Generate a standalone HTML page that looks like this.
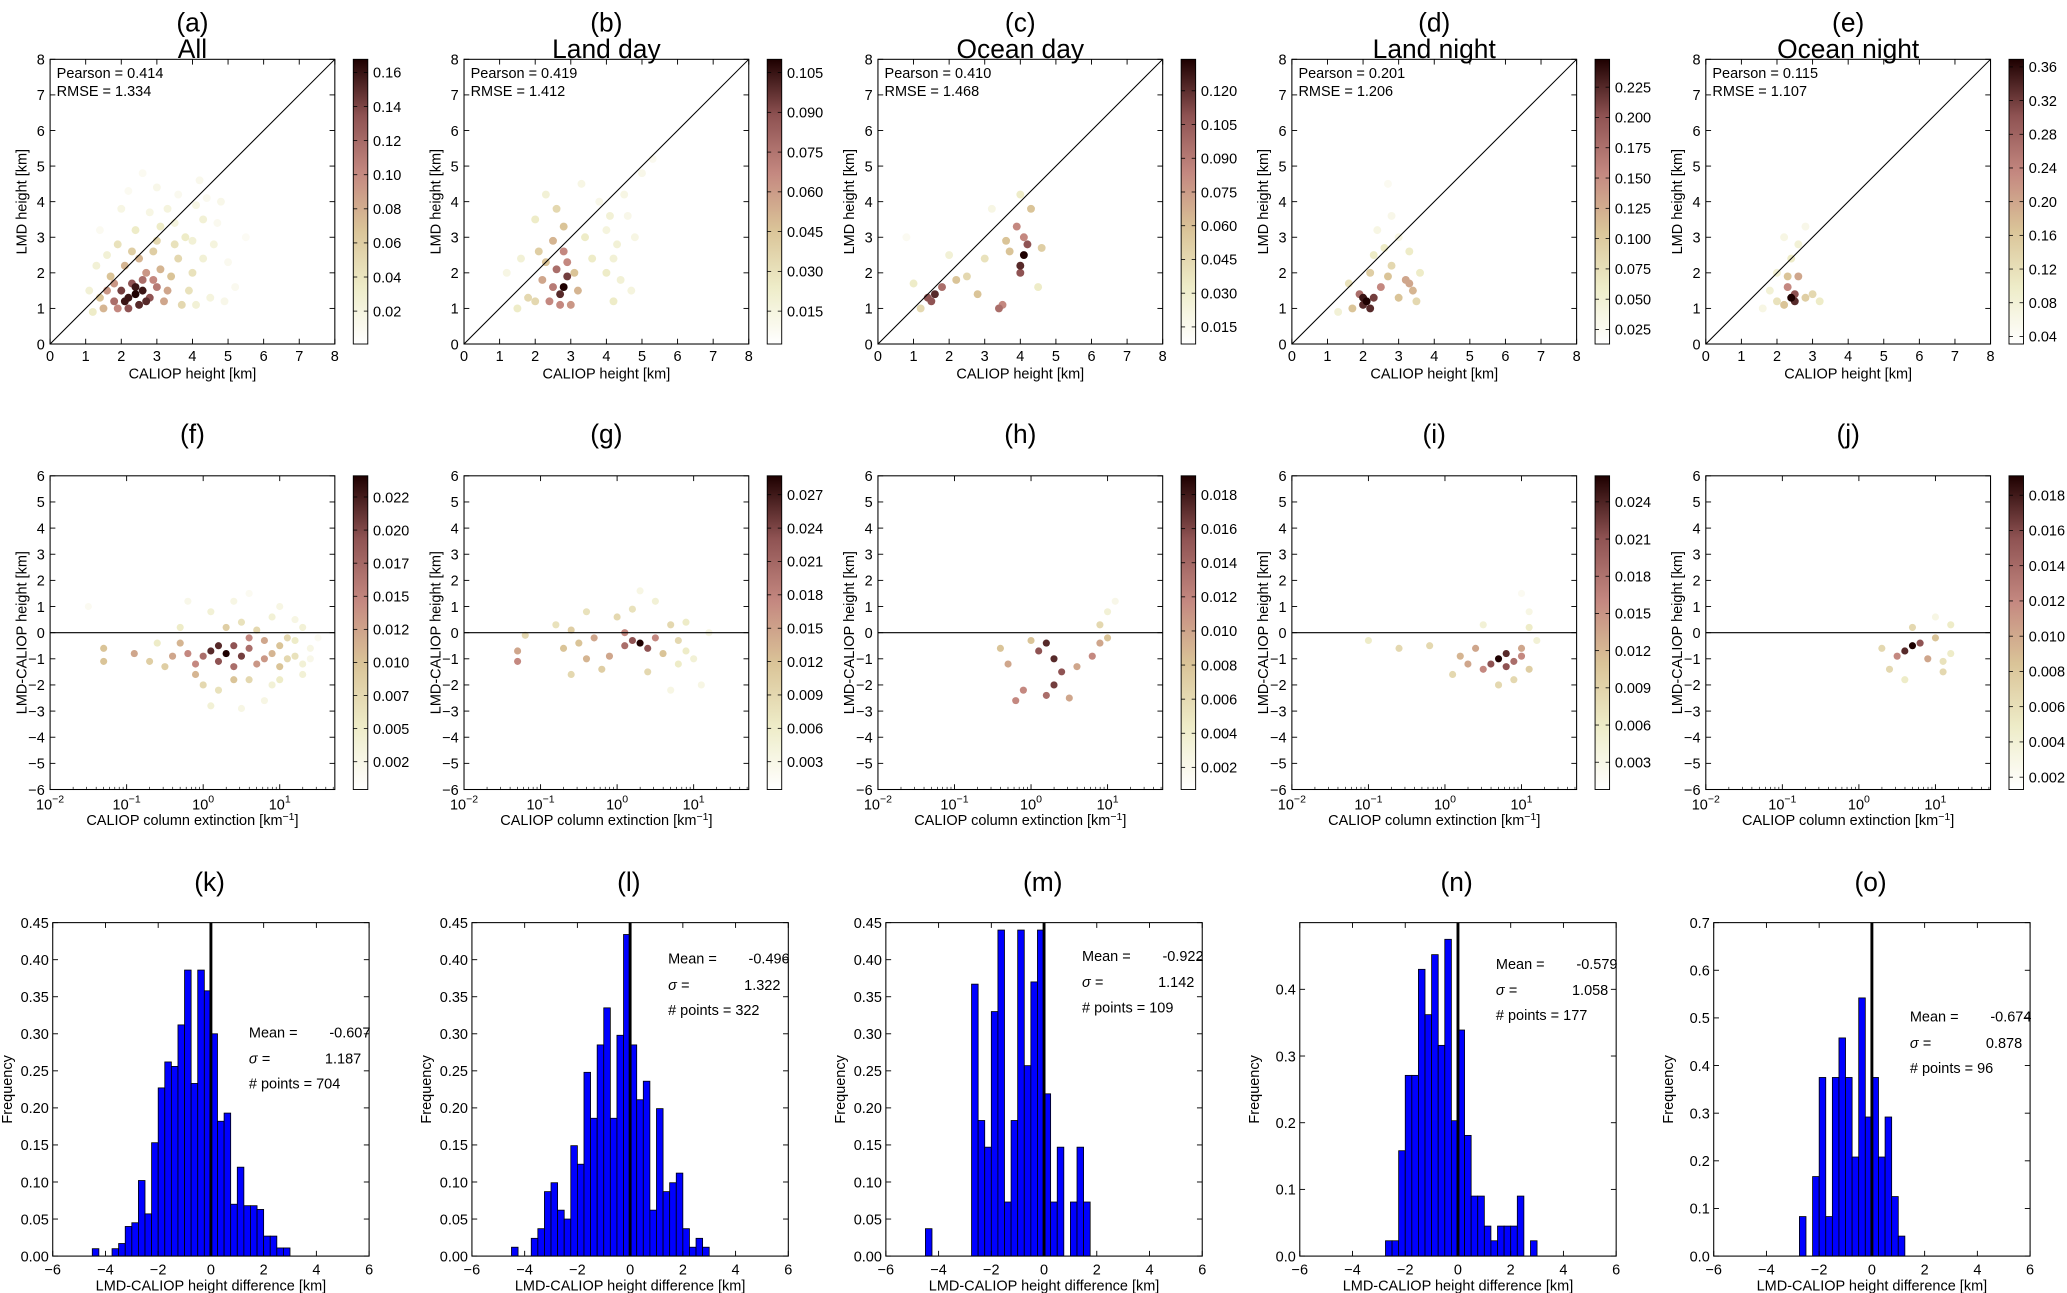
<!DOCTYPE html>
<html><head><meta charset="utf-8"><style>
html,body{margin:0;padding:0;background:#fff;}
svg{display:block;font-family:"Liberation Sans",sans-serif;}
</style></head><body>
<svg id="fig" width="2067" height="1293" viewBox="0 0 1568 981" preserveAspectRatio="none" xmlns="http://www.w3.org/2000/svg"></svg>
<script>
// ---------- DATA ----------
const topLetters = ["(a)","(b)","(c)","(d)","(e)"];
const topTitles = ["All","Land day","Ocean day","Land night","Ocean night"];
const midLetters = ["(f)","(g)","(h)","(i)","(j)"];
const botLetters = ["(k)","(l)","(m)","(n)","(o)"];
const pearson = ["0.414","0.419","0.410","0.201","0.115"];
const rmse = ["1.334","1.412","1.468","1.206","1.107"];
// scatter row 1: [caliop, lmd, normalized density]
const scatA = [[2.4,1.4,1],[2.2,1.3,.95],[2.6,1.5,.95],[2.0,1.5,.85],[2.8,1.3,.8],[2.3,1.7,.8],[1.8,1.2,.7],[3.0,1.6,.65],[2.5,1.1,.9],[1.6,1.5,.55],[3.2,1.2,.5],[2.7,2.0,.55],[2.1,2.2,.45],[3.4,1.9,.4],[1.5,1.0,.45],[2.9,2.6,.35],[3.6,2.4,.3],[4.0,2.0,.25],[3.8,3.0,.2],[4.3,3.5,.15],[2.4,3.2,.2],[3.3,3.8,.12],[4.6,2.8,.12],[1.3,2.2,.15],[2.0,3.8,.1],[4.8,4.0,.08],[5.2,1.6,.06],[3.0,4.4,.08],[4.2,4.6,.07],[1.2,0.9,.2],[5.5,3.0,.04],[2.6,4.8,.05],[3.7,1.1,.3],[4.5,1.3,.12],[1.9,2.8,.25],[2.2,1.0,.8],[2.9,1.8,.6],[1.7,1.9,.4],[3.5,2.8,.25],[4.1,3.9,.1],[3.1,3.3,.2],[2.5,2.4,.45],[2.1,1.2,.95],[2.7,1.2,.9],[2.4,1.6,.95],[1.9,1.0,.6],[2.6,1.8,.7],[3.3,1.5,.5],[1.4,1.3,.4],[1.8,1.7,.55],[3.1,2.1,.45],[2.3,2.6,.35],[3.9,1.5,.25],[4.3,2.4,.15],[4.0,2.9,.15],[3.5,3.4,.12],[2.8,3.7,.1],[1.6,2.5,.15],[1.1,1.5,.15],[4.7,3.4,.06],[4.4,4.1,.06],[3.6,4.2,.06],[2.2,4.3,.05],[5.0,2.3,.06],[1.4,3.2,.05],[3.0,2.9,.3],[4.9,1.2,.08],[4.1,1.1,.15]];
const scatB = [[2.8,1.6,1],[2.7,1.4,.9],[2.9,1.9,.85],[2.6,2.1,.7],[2.8,2.6,.6],[2.4,1.2,.6],[3.0,1.1,.55],[2.2,1.8,.5],[2.5,2.9,.45],[2.8,3.3,.4],[2.6,3.8,.3],[2.1,2.6,.35],[1.8,1.3,.3],[3.2,1.5,.45],[4.2,1.2,.2],[4.0,2.0,.2],[4.3,2.8,.15],[4.1,3.6,.15],[4.5,4.2,.1],[4.8,3.0,.1],[5.0,4.8,.08],[4.4,1.8,.15],[1.5,1.0,.2],[1.2,2.0,.1],[3.6,2.4,.2],[3.3,4.5,.1],[2.0,3.5,.2],[5.3,5.2,.06],[4.7,1.5,.12],[2.3,4.2,.15],[2.7,1.1,.6],[2.9,2.3,.6],[2.5,1.6,.65],[3.1,2.0,.4],[2.3,2.3,.4],[2.0,1.2,.3],[4.2,2.4,.15],[4.0,3.2,.12],[4.6,3.6,.08],[3.8,4.0,.08],[1.6,2.4,.15],[3.4,3.0,.2]];
const scatC = [[4.1,2.5,1],[4.0,2.2,.9],[4.2,2.8,.8],[3.9,3.3,.6],[4.3,3.8,.4],[3.6,2.9,.4],[1.6,1.4,.9],[1.4,1.3,.8],[1.8,1.6,.7],[2.2,1.8,.4],[3.4,1.0,.7],[3.5,1.1,.6],[2.8,1.4,.4],[2.5,1.9,.3],[3.0,2.4,.25],[4.6,2.7,.35],[4.0,4.2,.2],[1.0,1.7,.2],[0.8,3.0,.05],[2.0,2.5,.15],[3.2,3.8,.1],[4.5,1.6,.2],[1.2,1.0,.3],[4.0,2.0,.8],[4.1,3.0,.6],[1.5,1.2,.8],[3.7,2.6,.4]];
const scatD = [[2.1,1.2,1],[2.0,1.1,.9],[2.3,1.3,.85],[1.9,1.4,.7],[2.5,1.6,.6],[3.2,1.8,.5],[3.4,1.5,.45],[3.0,1.3,.4],[2.8,2.2,.3],[2.2,2.0,.35],[2.6,2.7,.2],[3.3,2.6,.2],[2.4,3.2,.1],[2.8,3.6,.08],[2.7,4.5,.05],[1.7,1.0,.4],[1.6,1.7,.25],[3.6,2.0,.2],[3.0,3.0,.1],[2.3,2.5,.2],[1.3,0.9,.15],[3.5,1.2,.3],[2.2,1.0,.9],[2.0,1.3,.95],[3.3,1.7,.5],[2.7,1.9,.4]];
const scatE = [[2.4,1.3,1],[2.5,1.4,.8],[2.3,1.6,.6],[2.6,1.9,.5],[2.2,1.1,.4],[2.8,1.3,.35],[2.0,1.2,.25],[3.0,1.4,.3],[2.4,2.4,.2],[2.6,2.8,.15],[2.2,3.0,.1],[2.8,3.3,.08],[1.6,1.0,.1],[1.8,1.5,.15],[3.2,1.2,.2],[2.0,2.0,.15],[2.5,1.2,.9],[2.3,1.9,.4]];
// scatter row 2: [log10 extinction, height difference, normalized density]
const scatF = [[0.3,-0.8,1],[0.1,-0.7,.9],[0.5,-0.9,.85],[0.2,-1.1,.8],[0.4,-0.5,.8],[0,-0.9,.7],[0.6,-0.6,.7],[-0.2,-0.8,.6],[0.7,-1.2,.55],[0.8,-0.3,.5],[-0.4,-0.9,.5],[0.9,-0.8,.45],[1.0,-1.3,.4],[1.1,-0.2,.3],[1.2,-0.9,.25],[1.3,0.2,.15],[1.3,-1.6,.15],[1.4,-0.6,.1],[0.4,-1.8,.4],[0.2,-2.2,.25],[-0.1,-1.6,.45],[0.5,0.4,.25],[0.1,0.8,.15],[0.6,1.5,.05],[-0.5,-1.3,.35],[-0.6,-0.4,.2],[-0.9,-0.8,.5],[-1.3,-1.1,.4],[-1.3,-0.6,.4],[-1.5,1.0,.05],[0.8,-2.6,.1],[1.0,1.0,.1],[-0.3,0.2,.2],[1.5,-0.2,.05],[0.9,-2.0,.15],[0.2,-0.5,.9],[0.4,-1.3,.7],[0.6,-0.2,.6],[-0.1,-1.2,.6],[0.8,-1.0,.55],[1.0,-0.5,.4],[1.2,-0.3,.2],[1.1,-1.0,.3],[1.3,-1.2,.15],[0.7,0.1,.3],[0.3,0.2,.35],[-0.3,-0.4,.45],[-0.7,-1.1,.35],[0.0,-2.0,.3],[0.6,-1.8,.3],[1.0,-1.8,.2],[0.9,0.6,.15],[1.2,0.5,.1],[0.4,1.2,.1],[-0.2,1.2,.08],[1.4,-1.0,.08],[0.1,-2.8,.15],[0.5,-2.9,.1]];
const scatG = [[0.3,-0.4,1],[0.2,-0.3,.8],[0.1,-0.5,.7],[0.5,-0.2,.6],[-0.3,-0.2,.5],[-0.5,-0.4,.4],[-0.7,-0.6,.4],[0.6,-0.8,.4],[0.8,-0.3,.3],[0.9,0.4,.2],[1.0,-1.0,.15],[1.1,-2.0,.1],[0.4,-1.5,.3],[-0.2,-1.4,.35],[-0.6,-1.6,.3],[0.0,0.6,.3],[-0.4,0.8,.25],[0.5,1.2,.15],[0.7,-2.2,.1],[-1.3,-1.1,.6],[-1.3,-0.7,.5],[-1.2,-0.1,.3],[0.3,1.6,.1],[1.2,0.0,.1],[-0.8,0.3,.25],[0.4,-0.6,.8],[0.1,0.0,.6],[-0.1,-0.9,.5],[0.7,0.3,.3],[0.8,-1.2,.2],[-0.4,-1.0,.45],[0.2,0.9,.25],[0.9,-0.7,.2],[-0.6,0.1,.35]];
const scatH = [[0.2,-0.4,.9],[0.1,-0.7,.8],[0.3,-1.0,.9],[0.4,-1.5,.8],[0.3,-2.0,.85],[0.2,-2.4,.7],[-0.1,-2.2,.6],[-0.3,-1.2,.5],[-0.4,-0.6,.4],[0.8,-0.9,.6],[0.9,-0.4,.5],[0.9,0.3,.3],[1.0,0.8,.15],[1.0,-0.2,.4],[0.6,-1.3,.5],[-0.2,-2.6,.6],[0.5,-2.5,.5],[1.1,1.2,.08],[0.0,-0.3,.4]];
const scatI = [[0.7,-1.0,1],[0.8,-0.8,.9],[0.6,-1.2,.8],[0.9,-1.1,.7],[0.5,-1.4,.6],[0.4,-0.6,.5],[0.2,-0.9,.45],[1.0,-0.6,.5],[1.1,-1.4,.35],[1.1,0.2,.2],[1.1,0.8,.1],[1.2,-0.3,.15],[0.9,-1.8,.3],[0.7,-2.0,.3],[0.1,-1.6,.3],[-0.2,-0.5,.3],[-0.6,-0.6,.3],[-1.0,-0.3,.2],[0.5,0.3,.15],[1.0,1.5,.05],[0.3,-1.2,.5],[0.8,-1.3,.8],[1.0,-0.9,.6]];
const scatJ = [[0.7,-0.5,1],[0.6,-0.7,.9],[0.8,-0.4,.8],[0.5,-0.9,.6],[0.9,-1.0,.5],[1.0,-0.2,.4],[1.1,-1.5,.3],[1.2,0.3,.2],[1.2,-0.8,.2],[0.4,-1.4,.3],[0.3,-0.6,.3],[0.6,-1.8,.2],[1.0,0.6,.1],[0.7,0.2,.3],[1.1,-1.1,.25]];
// colorbars: range and ticks
const cbTop = [[0.0007,0.1677,[0.02,0.04,0.06,0.08,0.10,0.12,0.14,0.16],2],[0.0026,0.110,[0.015,0.030,0.045,0.060,0.075,0.090,0.105],3],[0.0074,0.134,[0.015,0.030,0.045,0.060,0.075,0.090,0.105,0.120],3],[0.013,0.248,[0.025,0.050,0.075,0.100,0.125,0.150,0.175,0.200,0.225],3],[0.031,0.369,[0.04,0.08,0.12,0.16,0.20,0.24,0.28,0.32,0.36],2]];
const cbMid = [[0.0004,0.0241,[0.0025,0.0050,0.0075,0.0100,0.0125,0.0150,0.0175,0.0200,0.0225],4],[0.0005,0.0287,[0.003,0.006,0.009,0.012,0.015,0.018,0.021,0.024,0.027],3],[0.0007,0.0191,[0.002,0.004,0.006,0.008,0.010,0.012,0.014,0.016,0.018],3],[0.0008,0.0261,[0.003,0.006,0.009,0.012,0.015,0.018,0.021,0.024],3],[0.0013,0.0191,[0.002,0.004,0.006,0.008,0.010,0.012,0.014,0.016,0.018],3]];
// histograms: bin start (km), bin width 0.25
const binStart = -4.5;
const histK = [0.01,0,0,0.01,0.017,0.04,0.045,0.102,0.057,0.153,0.227,0.262,0.256,0.312,0.386,0.233,0.386,0.358,0.30,0.182,0.193,0.07,0.12,0.068,0.068,0.063,0.027,0.027,0.011,0.011];
const histL = [0.012,0,0,0.024,0.037,0.087,0.099,0.062,0.05,0.149,0.124,0.248,0.186,0.285,0.335,0.186,0.298,0.434,0.285,0.211,0.236,0.062,0.199,0.087,0.099,0.112,0.037,0.012,0.024,0.012];
const histM = [0.037,0,0,0,0,0,0,0.367,0.183,0.147,0.33,0.44,0.073,0.183,0.44,0.257,0.37,0.44,0.219,0.073,0.147,0,0.073,0.147,0.073];
const histN = [0,0,0,0,0,0,0,0.023,0.023,0.158,0.271,0.271,0.43,0.362,0.452,0.316,0.475,0.203,0.339,0.181,0.09,0.09,0.045,0.023,0.045,0.045,0.045,0.09,0,0.023];
const histO = [0,0,0,0,0,0,0,0.083,0,0.167,0.375,0.083,0.375,0.458,0.375,0.208,0.542,0.292,0.375,0.208,0.292,0.125,0.042];
const histYmax = [0.45,0.45,0.45,0.5,0.7];
const histYticks = [[0,0.05,0.1,0.15,0.2,0.25,0.3,0.35,0.4,0.45],[0,0.05,0.1,0.15,0.2,0.25,0.3,0.35,0.4,0.45],[0,0.05,0.1,0.15,0.2,0.25,0.3,0.35,0.4,0.45],[0,0.1,0.2,0.3,0.4],[0,0.1,0.2,0.3,0.4,0.5,0.6,0.7]];
const histYdec = [2,2,2,1,1];
const means = ["-0.607","-0.496","-0.922","-0.579","-0.674"];
const sigmas = ["1.187","1.322","1.142","1.058","0.878"];
const npts = ["704","322","109","177","96"];
const statsY = [787,731,729,735,775];

// ---------- LAYOUT ----------
const NS="http://www.w3.org/2000/svg";
const svg=document.getElementById('fig');
const colX=[38,352,666,980,1294], SW=216;
const colHX=[40,358,672,986,1300], HW=240;
const R1=[45,261], R2=[361,599], R3=[700,953];
function mk(tag,attrs,parent){const e=document.createElementNS(NS,tag);for(const k in attrs)e.setAttribute(k,attrs[k]);(parent||svg).appendChild(e);return e;}
function txt(s,x,y,size,anchor,parent,extra){const t=mk('text',Object.assign({x:x,y:y,'font-size':size,'text-anchor':anchor||'middle',fill:'#000'},extra||{}),parent);t.textContent=s;return t;}
const stops=[[0,[255,255,255]],[0.2,[238,236,200]],[0.4,[218,196,152]],[0.6,[196,136,128]],[0.8,[143,83,83]],[1,[30,0,0]]];
function cmap(v){v=Math.max(0,Math.min(1,v));for(let i=1;i<stops.length;i++){if(v<=stops[i][0]){const a=stops[i-1],b=stops[i];const f=(v-a[0])/(b[0]-a[0]);const c=a[1].map((q,j)=>Math.round(q+(b[1][j]-q)*f));return `rgb(${c[0]},${c[1]},${c[2]})`;}}return 'rgb(30,0,0)';}
const defs=mk('defs',{});
const lg=mk('linearGradient',{id:'cg',x1:0,y1:1,x2:0,y2:0},defs);
for(let i=0;i<=20;i++){mk('stop',{offset:i/20,'stop-color':cmap(i/20)},lg);}

function axesFrame(g,x0,y0,w,h){const r=mk('rect',{x:x0,y:y0,width:w,height:h,fill:'none',stroke:'#000','stroke-width':0.8},g);}
function tickY(g,x0,w,y){mk('line',{x1:x0,y1:y,x2:x0+4,y2:y,stroke:'#000','stroke-width':0.7},g);mk('line',{x1:x0+w,y1:y,x2:x0+w-4,y2:y,stroke:'#000','stroke-width':0.7},g);}
function tickX(g,y0,h,x){mk('line',{x1:x,y1:y0+h,x2:x,y2:y0+h-4,stroke:'#000','stroke-width':0.7},g);mk('line',{x1:x,y1:y0,x2:x,y2:y0+4,stroke:'#000','stroke-width':0.7},g);}

function colorbar(g,x,y0,y1,cb,clipW){
  const [vmin,vmax,ticks,dec]=cb;
  const r=mk('rect',{x:x,y:y0,width:11,height:y1-y0,fill:'url(#cg)',stroke:'#000','stroke-width':0.7},g);
  
  const cy=v=>y1-(v-vmin)/(vmax-vmin)*(y1-y0);
  const lab=mk('g',{},g);
  if(clipW){const id='clip'+Math.round(x)+'_'+y0;const cp=mk('clipPath',{id:id},defs);mk('rect',{x:x+11,y:y0-10,width:clipW,height:y1-y0+20},cp);lab.setAttribute('clip-path',`url(#${id})`);}
  ticks.forEach(v=>{const yy=cy(v);mk('line',{x1:x,y1:yy,x2:x+3,y2:yy,stroke:'#000','stroke-width':0.6},g);mk('line',{x1:x+11,y1:yy,x2:x+8,y2:yy,stroke:'#000','stroke-width':0.6},g);
    const t=txt(v.toFixed(dec),x+15,yy+4,11,'start',lab);});
}

// ---------- ROW 1 ----------
const scatTop=[scatA,scatB,scatC,scatD,scatE];
for(let p=0;p<5;p++){
  const g=mk('g',{});
  
  
  const x0=colX[p],y0=R1[0],h=R1[1]-R1[0];
  const sx=v=>x0+v/8*SW, sy=v=>R1[1]-v/8*h;
  const lt=txt(topLetters[p],x0+SW/2,24,20,'middle',g);
  const tt=txt(topTitles[p],x0+SW/2,44,20,'middle',g);
  scatTop[p].slice().sort((a,b)=>a[2]-b[2]).forEach(d=>{const c=mk('circle',{cx:sx(d[0]),cy:sy(d[1]),r:3,fill:cmap(d[2])},g);});
  const dl=mk('line',{x1:sx(0),y1:sy(0),x2:sx(8),y2:sy(8),stroke:'#000','stroke-width':0.8},g);
  axesFrame(g,x0,y0,SW,h);
  for(let v=0;v<=8;v++){tickY(g,x0,SW,sy(v));tickX(g,y0,h,sx(v));
    const a=txt(String(v),x0-4,sy(v)+4,11,'end',g);
    const b=txt(String(v),sx(v),R1[1]+13,11,'middle',g);}
  const p1=txt('Pearson = '+pearson[p],x0+5,y0+14,11,'start',g);
  const p2=txt('RMSE    = '+rmse[p],x0+5,y0+28,11,'start',g,{'xml:space':'preserve'});
  const xl=txt('CALIOP height [km]',x0+SW/2,R1[1]+26,11,'middle',g);
  const yl=txt('LMD height [km]',0,0,11,'middle',g,{transform:`translate(${x0-18},${y0+h/2}) rotate(-90)`});
  colorbar(g,x0+SW+14,y0,R1[1],cbTop[p],null);
}

// ---------- ROW 2 ----------
const scatMid=[scatF,scatG,scatH,scatI,scatJ];
const LMIN=-2,LMAX=1.72;
for(let p=0;p<5;p++){
  const g=mk('g',{});
  
  
  const x0=colX[p],y0=R2[0],h=R2[1]-R2[0];
  const sx=v=>x0+(v-LMIN)/(LMAX-LMIN)*SW, sy=v=>R2[1]-(v+6)/12*h;
  const lt=txt(midLetters[p],x0+SW/2,336,20,'middle',g);
  scatMid[p].slice().sort((a,b)=>a[2]-b[2]).forEach(d=>{const c=mk('circle',{cx:sx(d[0]),cy:sy(d[1]),r:2.7,fill:cmap(d[2])},g);});
  const zl=mk('line',{x1:x0,y1:sy(0),x2:x0+SW,y2:sy(0),stroke:'#000','stroke-width':0.8},g);
  axesFrame(g,x0,y0,SW,h);
  for(let v=-6;v<=6;v++){tickY(g,x0,SW,sy(v));const a=txt(String(v).replace('-','−'),x0-4,sy(v)+4,11,'end',g);}
  for(let d=-2;d<=1;d++){tickX(g,y0,h,sx(d));
    for(let m=2;m<10;m++){const lv=d+Math.log10(m);if(lv<LMAX){const xx=sx(lv);mk('line',{x1:xx,y1:R2[1],x2:xx,y2:R2[1]-2,stroke:'#000','stroke-width':0.5},g);}}
    const t=mk('text',{x:sx(d),y:R2[1]+15,'font-size':11,'text-anchor':'middle'},g);
    t.textContent='10';const ts=mk('tspan',{dy:-5,'font-size':8},t);ts.textContent=String(d).replace('-','−');}
  const xl=mk('text',{x:x0+SW/2,y:R2[1]+27,'font-size':11,'text-anchor':'middle'},g);
  xl.textContent='CALIOP column extinction [km';const sp=mk('tspan',{dy:-4,'font-size':8},xl);sp.textContent='−1';const sp2=mk('tspan',{dy:4},xl);sp2.textContent=']';
  const yl=txt('LMD-CALIOP height [km]',0,0,11,'middle',g,{transform:`translate(${x0-18},${y0+h/2}) rotate(-90)`});
  colorbar(g,x0+SW+14,y0,R2[1],cbMid[p],p===0?31:null);
}

// ---------- ROW 3 ----------
const hists=[histK,histL,histM,histN,histO];
for(let p=0;p<5;p++){
  const g=mk('g',{});
  
  
  const x0=colHX[p],y0=R3[0],h=R3[1]-R3[0],ym=histYmax[p];
  const sx=v=>x0+(v+6)/12*HW, sy=v=>R3[1]-v/ym*h;
  const lt=txt(botLetters[p],x0+HW/2-1,676,20,'middle',g);
  hists[p].forEach((v,i)=>{if(v<=0)return;const a=binStart+i*0.25;const b=mk('rect',{x:sx(a),y:sy(v),width:sx(a+0.25)-sx(a),height:R3[1]-sy(v),fill:'#0000ff',stroke:'#000','stroke-width':0.6},g);});
  const zl=mk('line',{x1:sx(0),y1:y0,x2:sx(0),y2:R3[1],stroke:'#000','stroke-width':2.2},g);
  axesFrame(g,x0,y0,HW,h);
  histYticks[p].forEach(v=>{tickY(g,x0,HW,sy(v));const a=txt(v.toFixed(histYdec[p]),x0-3,sy(v)+4,11,'end',g);});
  for(let v=-6;v<=6;v+=2){tickX(g,y0,h,sx(v));const a=txt(String(v).replace('-','−'),sx(v),R3[1]+14,11,'middle',g);}
  const xl=txt('LMD-CALIOP height difference [km]',x0+HW/2,R3[1]+26,11,'middle',g);
  const yl=txt('Frequency',0,0,11,'middle',g,{transform:`translate(${x0-31},${y0+h/2}) rotate(-90)`});
  const tx=x0+HW*0.62, sY=statsY[p];
  const m1=txt('Mean =',tx,sY,11,'start',g);
  const m2=txt(means[p],x0+HW+1,sY,11,'end',g);
  const s1=txt('σ =',tx,sY+20,11,'start',g,{'font-style':'italic'});
  const s2=txt(sigmas[p],x0+HW-6,sY+20,11,'end',g);
  const n1=txt('# points = '+npts[p],tx,sY+39,11,'start',g);
}
</script>
</body></html>
